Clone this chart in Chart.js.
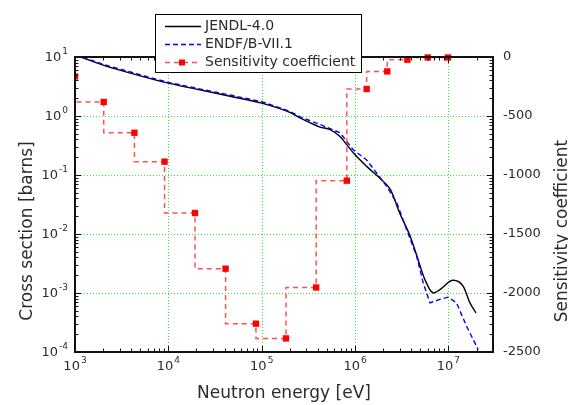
<!DOCTYPE html>
<html>
<head>
<meta charset="utf-8">
<script src="https://cdn.jsdelivr.net/npm/chart.js@4.4.0/dist/chart.umd.min.js"></script>
<style>
  html, body { margin: 0; padding: 0; background: #fff; }
</style>
</head>
<body>
<canvas id="xs" width="568" height="405"></canvas>
<script>
// cross section curves [barns] vs neutron energy [eV]
const jendlEnergy = [1e3, 2e3, 5e3, 1e4, 2e4, 5e4, 1e5, 2e5, 2.6e5, 4.2e5, 5.4e5, 6.9e5, 8.1e5, 1e6, 1.33e6,
  2.0e6, 2.4e6, 3.0e6, 3.9e6, 4.6e6, 5.6e6, 6.9e6, 8.1e6, 1.12e7, 1.44e7, 1.7e7, 1.97e7];
const jendlXs = [10.8, 7.3, 4.8, 3.6, 2.85, 2.1, 1.65, 1.15, 0.92, 0.65, 0.59, 0.45, 0.33, 0.22, 0.14,
  0.078, 0.056, 0.0227, 0.0091, 0.0042, 0.00168, 0.0010, 0.00114, 0.00164, 0.0013, 0.00068, 0.00046];

const endfEnergy = [1e3, 2e3, 5e3, 1e4, 2e4, 5e4, 1e5, 2e5, 2.6e5, 4.2e5, 6.9e5, 9.5e5, 1.33e6, 1.7e6,
  2.18e6, 2.8e6, 3.57e6, 4.57e6, 5.37e6, 6.34e6, 8.1e6, 9.95e6, 1.22e7, 1.57e7, 2.08e7];
const endfXs = [11.0, 7.5, 5.0, 3.7, 2.95, 2.2, 1.75, 1.2, 0.96, 0.72, 0.52, 0.27, 0.18, 0.108,
  0.064, 0.0335, 0.0118, 0.0042, 0.00148, 0.00068, 0.00078, 0.00085, 0.00068, 0.00027, 0.00011];

// sensitivity coefficient per energy group (right axis)
const sensEnergy = [1e3, 2.03e3, 4.33e3, 9.1e3, 1.93e4, 4.1e4, 8.67e4, 1.82e5, 3.83e5, 8.15e5,
  1.33e6, 2.21e6, 3.63e6, 6.0e6, 9.9e6];
const sensValue = [-165, -381, -642, -887, -1322, -1794, -2260, -2385, -1953, -1048,
  -271, -122, -23, -4, -4];

const xDecades = [1e3, 1e4, 1e5, 1e6, 1e7];
const yDecades = [1e1, 1e0, 1e-1, 1e-2, 1e-3, 1e-4];
const labels = ['JENDL-4.0', 'ENDF/B-VII.1', 'Sensitivity coefficient'];

const FONT = '"DejaVu Sans", Verdana, sans-serif';
const TXT = '#2b2b2b';

function seg(ctx, x1, y1, x2, y2) {
  ctx.beginPath(); ctx.moveTo(x1, y1); ctx.lineTo(x2, y2); ctx.stroke();
}

function drawPow(ctx, exp, x, y, align) {
  ctx.font = '13px ' + FONT;
  const w1 = ctx.measureText('10').width;
  ctx.font = '9px ' + FONT;
  const w2 = ctx.measureText(String(exp)).width;
  const total = w1 + w2 + 1;
  let left = align === 'right' ? x - total : x - total / 2;
  ctx.fillStyle = TXT;
  ctx.textAlign = 'left';
  ctx.textBaseline = 'middle';
  ctx.font = '13px ' + FONT;
  ctx.fillText('10', left, y);
  ctx.font = '9px ' + FONT;
  ctx.fillText(String(exp), left + w1 + 1, y - 6);
}

const gridPlugin = {
  id: 'gridPlugin',
  beforeDatasetsDraw(chart) {
    const { ctx, chartArea: a, scales: { x, y } } = chart;
    ctx.save();
    ctx.strokeStyle = 'rgb(40,235,40)';
    ctx.lineWidth = 1;
    ctx.setLineDash([1, 2]);
    xDecades.forEach(v => {
      const px = Math.round(x.getPixelForValue(v)) + 0.5;
      seg(ctx, px, a.top, px, a.bottom);
    });
    yDecades.forEach(v => {
      const py = Math.round(y.getPixelForValue(v)) + 0.5;
      seg(ctx, a.left, py, a.right, py);
    });
    ctx.restore();
  }
};

const framePlugin = {
  id: 'framePlugin',
  afterDatasetsDraw(chart) {
    const { ctx, chartArea: a, scales: { x, y } } = chart;
    ctx.save();
    ctx.strokeStyle = '#111';
    ctx.lineWidth = 1;
    // minor + major ticks, pointing inward
    xDecades.forEach(d => {
      for (let m = 1; m <= 9; m++) {
        const v = m * d;
        if (v > x.max) break;
        const px = Math.round(x.getPixelForValue(v)) + 0.5;
        const len = m === 1 ? 6 : 3.5;
        seg(ctx, px, a.bottom, px, a.bottom - len);
        seg(ctx, px, a.top, px, a.top + len);
      }
    });
    yDecades.forEach(d => {
      for (let m = 1; m <= 9; m++) {
        const v = m * d;
        if (v > y.max) break;
        const py = Math.round(y.getPixelForValue(v)) + 0.5;
        const len = m === 1 ? 6 : 3.5;
        seg(ctx, a.left, py, a.left + len, py);
        seg(ctx, a.right, py, a.right - len, py);
      }
    });
    ctx.lineWidth = 2;
    ctx.strokeRect(a.left, a.top, a.right - a.left, a.bottom - a.top);
    ctx.restore();
  },
  afterDraw(chart) {
    const { ctx, chartArea: a, scales: { x, y } } = chart;
    ctx.save();
    // tick labels with exponents
    xDecades.forEach(v => drawPow(ctx, Math.round(Math.log10(v)), x.getPixelForValue(v), 367, 'center'));
    yDecades.forEach(v => drawPow(ctx, Math.round(Math.log10(v)), 68, y.getPixelForValue(v) + 1, 'right'));

    // axis titles
    ctx.fillStyle = TXT;
    ctx.font = '17px ' + FONT;
    ctx.textAlign = 'center';
    ctx.textBaseline = 'middle';
    ctx.fillText('Neutron energy [eV]', (a.left + a.right) / 2, 394);
    ctx.save();
    ctx.translate(28, 231);
    ctx.rotate(-Math.PI / 2);
    ctx.fillText('Cross section [barns]', 0, 0);
    ctx.restore();
    ctx.save();
    ctx.translate(563, 231);
    ctx.rotate(-Math.PI / 2);
    ctx.fillText('Sensitivity coefficient', 0, 0);
    ctx.restore();

    // legend box
    ctx.fillStyle = '#fff';
    ctx.fillRect(155.5, 14.5, 206, 58);
    ctx.strokeStyle = '#000';
    ctx.lineWidth = 1;
    ctx.strokeRect(155.5, 14.5, 206, 58);
    const rows = [26.5, 44.5, 62.5];
    chart.data.datasets.forEach((ds, i) => {
      const ly = rows[i];
      ctx.strokeStyle = ds.borderColor;
      ctx.lineWidth = ds.borderWidth;
      ctx.setLineDash(ds.borderDash || []);
      seg(ctx, 165, ly, 201, ly);
      ctx.setLineDash([]);
      if (ds.pointRadius) {
        ctx.fillStyle = ds.pointBackgroundColor;
        ctx.fillRect(179, ly - 3, 6, 6);
      }
      ctx.fillStyle = TXT;
      ctx.font = '14px ' + FONT;
      ctx.textAlign = 'left';
      ctx.textBaseline = 'middle';
      ctx.fillText(ds.label, 205, ly);
    });
    ctx.restore();
  }
};

new Chart(document.getElementById('xs'), {
  type: 'line',
  data: {
    datasets: [
      {
        label: labels[0],
        data: jendlEnergy.map((e, i) => ({ x: e, y: jendlXs[i] })),
        yAxisID: 'y',
        borderColor: '#000',
        borderWidth: 1.4,
        pointRadius: 0,
        cubicInterpolationMode: 'monotone',
        order: 2
      },
      {
        label: labels[1],
        data: endfEnergy.map((e, i) => ({ x: e, y: endfXs[i] })),
        yAxisID: 'y',
        borderColor: '#0000ff',
        borderWidth: 1.4,
        borderDash: [5, 3],
        pointRadius: 0,
        tension: 0,
        order: 1
      },
      {
        label: labels[2],
        data: sensEnergy.map((e, i) => ({ x: e, y: sensValue[i] })),
        yAxisID: 'y2',
        borderColor: 'rgba(255,50,50,0.85)',
        borderWidth: 1.5,
        borderDash: [5, 4],
        stepped: 'after',
        pointStyle: 'rect',
        pointRadius: 4.5,
        pointBackgroundColor: '#ff0000',
        pointBorderWidth: 0,
        clip: { left: 0, top: 8, right: 8, bottom: 8 },
        order: 0
      }
    ]
  },
  options: {
    responsive: false,
    animation: false,
    devicePixelRatio: 1,
    layout: { padding: { top: 57, left: 0, right: 0, bottom: 0 } },
    plugins: { legend: { display: false }, tooltip: { enabled: false } },
    scales: {
      x: {
        type: 'logarithmic',
        position: 'bottom',
        min: 1e3,
        max: 3e7,
        grid: { display: false },
        border: { display: false },
        ticks: { display: false },
        afterFit: s => { s.height = 53; }
      },
      y: {
        type: 'logarithmic',
        position: 'left',
        min: 1e-4,
        max: 10,
        grid: { display: false },
        border: { display: false },
        ticks: { display: false },
        afterFit: s => { s.width = 75; }
      },
      y2: {
        type: 'linear',
        position: 'right',
        min: -2500,
        max: 0,
        grid: { display: false, drawTicks: false },
        border: { display: false },
        ticks: {
          stepSize: 500,
          padding: 10,
          color: TXT,
          font: { size: 13, family: FONT },
          callback: v => String(v)
        },
        afterFit: s => { s.width = 75; }
      }
    }
  },
  plugins: [gridPlugin, framePlugin]
});
</script>
</body>
</html>
